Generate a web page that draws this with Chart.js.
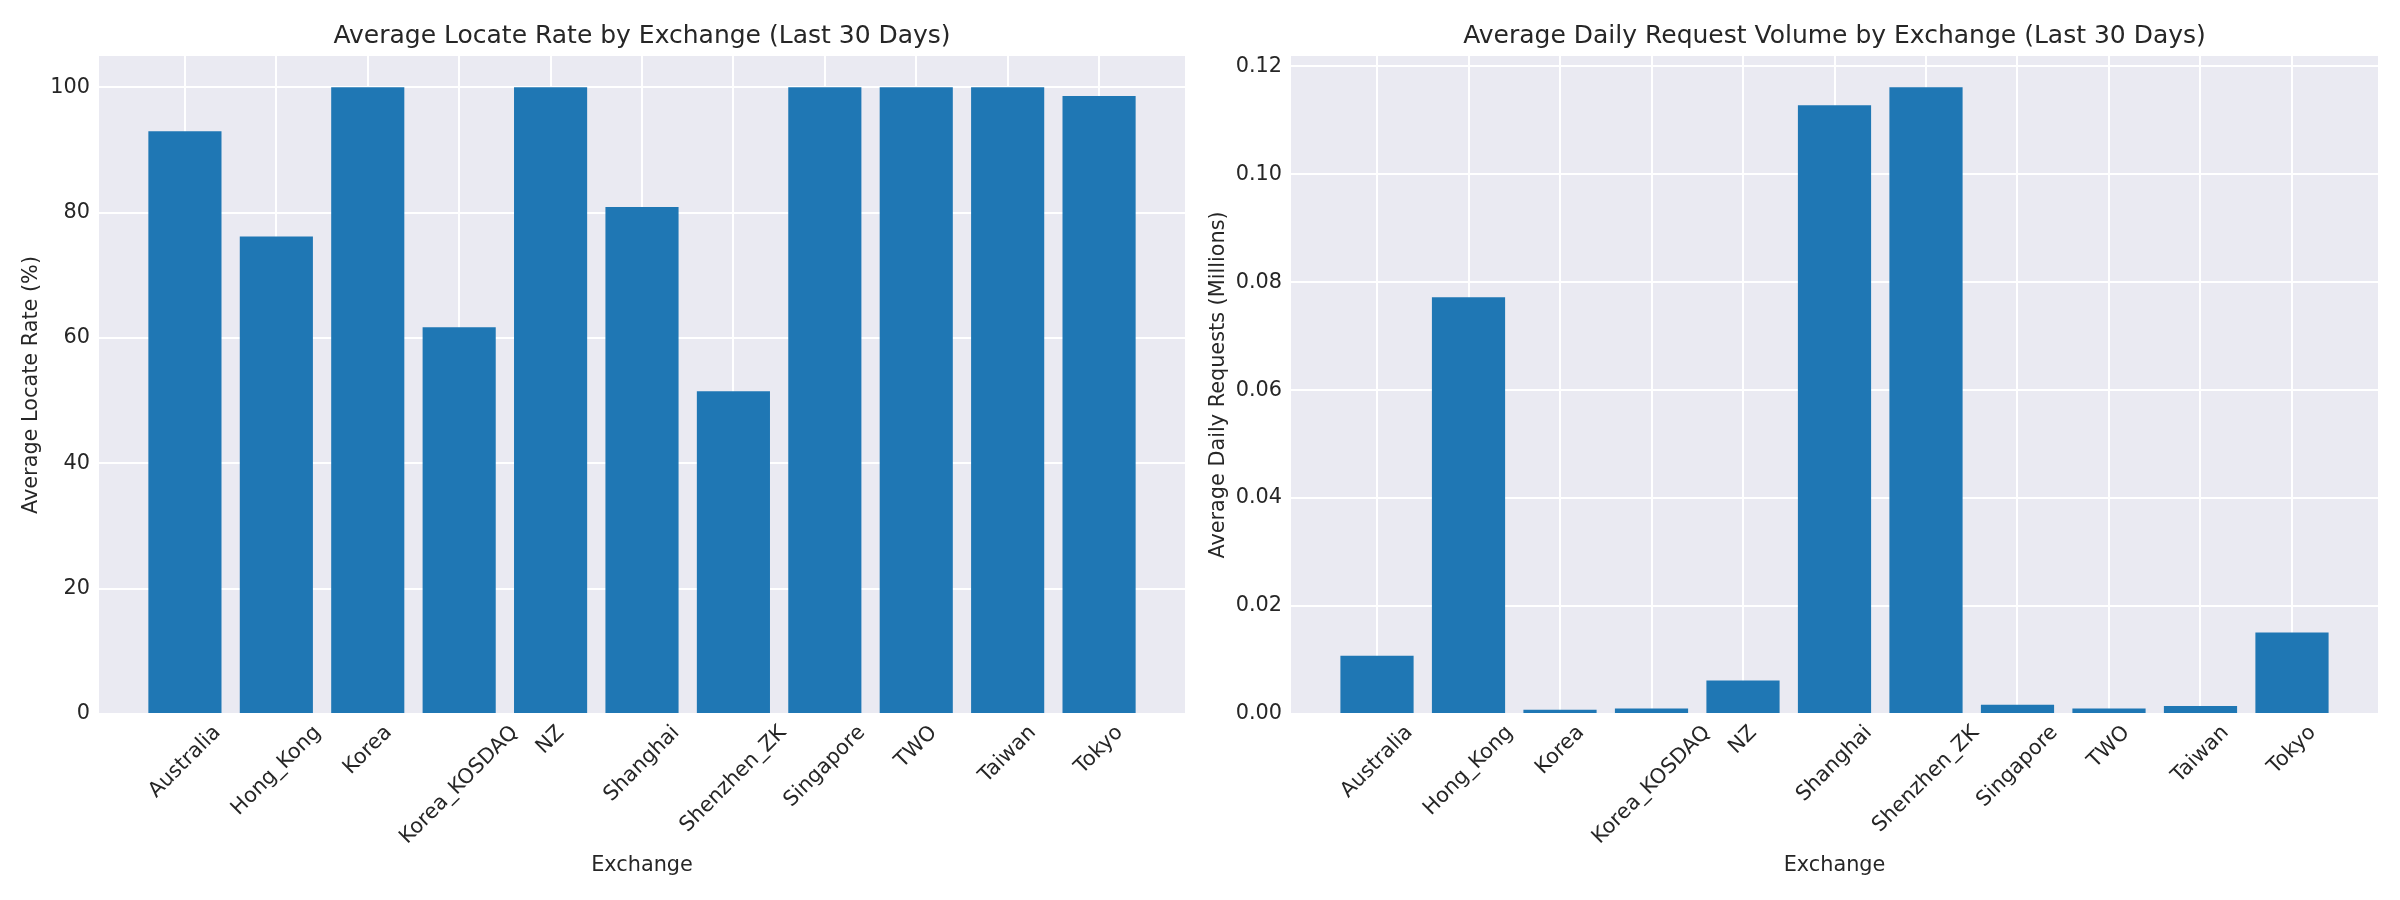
<!DOCTYPE html>
<html>
<head>
<meta charset="utf-8">
<script src="https://cdn.jsdelivr.net/npm/chart.js@4.4.1/dist/chart.umd.min.js"></script>
<style>
  body { margin: 0; background: #fff; }
  .wrap { display: flex; width: 2400px; height: 900px; }
  canvas { display: block; }
</style>
</head>
<body>
<div class="wrap">
  <canvas id="rateChart" width="1200" height="900"></canvas>
  <canvas id="volumeChart" width="1200" height="900"></canvas>
</div>
<script>
// data
const exchanges = ["Australia", "Hong_Kong", "Korea", "Korea_KOSDAQ", "NZ", "Shanghai",
  "Shenzhen_ZK", "Singapore", "TWO", "Taiwan", "Tokyo"];
const locateRate = [93.0, 76.2, 100, 61.7, 100, 80.9, 51.5, 100, 100, 100, 98.6];
const requestVolume = [0.0108, 0.0772, 0.0008, 0.0010, 0.0062, 0.1128, 0.1161, 0.0017, 0.0010, 0.0015, 0.0151];
const rateTicks = [0, 20, 40, 60, 80, 100];
const volumeTicks = [0, 0.02, 0.04, 0.06, 0.08, 0.10, 0.12];

const BAR = "#1f77b4";
const PANEL = "#EAEAF2";
const TEXT = "#262626";
const FONT = "'DejaVu Sans', sans-serif";
const SMALL = 20.8;

// matplotlib-like limits: bars 0.8 wide, 5% margins
const xPad = ((exchanges.length - 1) + 0.8) * 0.05 + 0.4;

const panelBg = {
  id: "panelBg",
  beforeDraw(chart) {
    const { ctx, chartArea: a } = chart;
    ctx.save();
    ctx.fillStyle = PANEL;
    ctx.fillRect(a.left, a.top, a.right - a.left, a.bottom - a.top);
    ctx.restore();
  }
};

// matplotlib centres rotated tick labels on the tick, Chart.js right-aligns them
const rotatedTicks = {
  id: "rotatedTicks",
  afterDraw(chart) {
    const { ctx, chartArea } = chart;
    const x = chart.scales.x;
    ctx.save();
    ctx.font = SMALL + "px " + FONT;
    ctx.fillStyle = TEXT;
    ctx.textAlign = "center";
    ctx.textBaseline = "middle";
    exchanges.forEach((name, i) => {
      const w = ctx.measureText(name).width;
      const half = (w + 24) / (2 * Math.SQRT2);
      ctx.save();
      ctx.translate(x.getPixelForValue(i), chartArea.bottom + 7 + half);
      ctx.rotate(-Math.PI / 4);
      ctx.fillText(name, 0, 0);
      ctx.restore();
    });
    ctx.restore();
  }
};

function makeChart(id, opts) {
  return new Chart(document.getElementById(id), {
    type: "bar",
    data: {
      datasets: [{
        data: opts.values.map((v, i) => ({ x: i, y: v })),
        backgroundColor: BAR,
        borderWidth: 0,
        barPercentage: 0.8,
        categoryPercentage: 1.0
      }]
    },
    options: {
      responsive: false,
      animation: false,
      layout: { padding: { left: 0, right: opts.padRight, top: 0, bottom: 0 } },
      plugins: {
        legend: { display: false },
        tooltip: { enabled: false },
        title: {
          display: true,
          text: opts.title,
          color: TEXT,
          fullSize: false,
          font: { family: FONT, size: 25, weight: "normal", lineHeight: 1.2 },
          padding: { top: 21, bottom: 5 }
        }
      },
      scales: {
        x: {
          type: "linear",
          offset: false,
          min: -xPad,
          max: exchanges.length - 1 + xPad,
          afterBuildTicks: (s) => { s.ticks = exchanges.map((_, i) => ({ value: i })); },
          afterFit: (s) => { s.height = 186; },
          ticks: { display: false },
          grid: { color: "#ffffff", lineWidth: 2, drawTicks: false, offset: false },
          border: { display: false },
          title: {
            display: true,
            text: "Exchange",
            color: TEXT,
            font: { family: FONT, size: SMALL, lineHeight: 1.2 },
            padding: { top: 0, bottom: 22 }
          }
        },
        y: {
          min: 0,
          max: Math.max(...opts.values) * 1.05,
          afterBuildTicks: (s) => { s.ticks = opts.ticks.map((v) => ({ value: v })); },
          afterFit: (s) => { s.width = opts.yWidth; },
          ticks: {
            color: TEXT,
            padding: 9,
            font: { family: FONT, size: SMALL },
            callback: opts.fmt
          },
          grid: { color: "#ffffff", lineWidth: 2, drawTicks: false },
          border: { display: false },
          title: {
            display: true,
            text: opts.yTitle,
            color: TEXT,
            font: { family: FONT, size: SMALL, lineHeight: 1.2 },
            padding: { top: opts.yTitlePad, bottom: 0 }
          }
        }
      }
    },
    plugins: [panelBg, rotatedTicks]
  });
}

makeChart("rateChart", {
  values: locateRate,
  ticks: rateTicks,
  title: "Average Locate Rate by Exchange (Last 30 Days)",
  yTitle: "Average Locate Rate (%)",
  fmt: (v) => String(Math.round(v)),
  yWidth: 99,
  yTitlePad: 19.5,
  padRight: 15
});

makeChart("volumeChart", {
  values: requestVolume,
  ticks: volumeTicks,
  title: "Average Daily Request Volume by Exchange (Last 30 Days)",
  yTitle: "Average Daily Requests (Millions)",
  fmt: (v) => v.toFixed(2),
  yWidth: 91,
  yTitlePad: 6,
  padRight: 22
});
</script>
</body>
</html>
